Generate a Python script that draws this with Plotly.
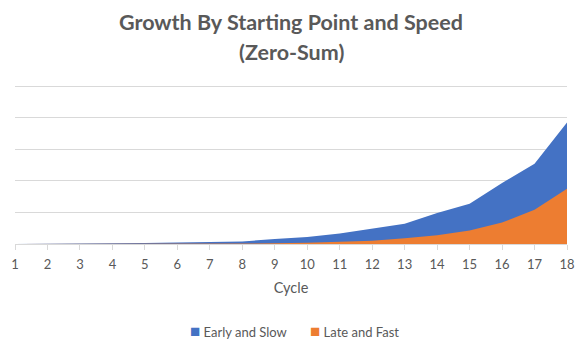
import plotly.graph_objects as go

cycles = list(range(1, 19))
early_slow = [0, 0, 0, 0.02, 0.03, 0.05, 0.06, 0.08, 0.16, 0.22, 0.33, 0.48, 0.64, 0.98, 1.275, 1.93, 2.54, 3.85]
late_fast = [0, 0, 0, 0.002, 0.004, 0.006, 0.008, 0.012, 0.02, 0.04, 0.06, 0.10, 0.18, 0.28, 0.43, 0.68, 1.085, 1.75]
title_lines = ["Growth By Starting Point and Speed", "(Zero-Sum)"]
series_names = ["Early and Slow", "Late and Fast"]
colors = ["#4472C4", "#ED7D31"]

FONT = "Lato"
GREY = "#595959"
Y_MAX = 5.1
PLOT_BOTTOM = 244
PLOT_TOP = 244 - Y_MAX * 31.6
PH = PLOT_BOTTOM - PLOT_TOP
W = 587 - 15 - 20


def py(pixel_y):
    return (PLOT_BOTTOM - pixel_y) / PH


def px(pixel_x):
    return (pixel_x - 15) / W


fig = go.Figure()
for name, vals, c in zip(series_names, [early_slow, late_fast], colors):
    fig.add_trace(go.Scatter(x=cycles, y=vals, name=name, mode="lines",
                             line=dict(width=0, color=c), fill="tozeroy",
                             fillcolor=c, showlegend=False))

for text, ypix in zip(title_lines, [22, 52]):
    fig.add_annotation(text="<b>%s</b>" % text, xref="paper", yref="paper",
                       x=0.5, y=py(ypix), xanchor="center", yanchor="middle",
                       showarrow=False, font=dict(family=FONT, size=21.5, color=GREY))

# legend (square swatch + label)
for name, c, xpix in zip(series_names, colors, [188, 308]):
    fig.add_annotation(text="<span style='color:%s;font-size:17px'>■</span> %s" % (c, name),
                       xref="paper", yref="paper", x=px(xpix), y=py(331),
                       xanchor="left", yanchor="middle", showarrow=False,
                       font=dict(family=FONT, size=13, color=GREY))

fig.update_layout(
    width=587, height=353,
    margin=dict(l=15, r=20, t=int(round(PLOT_TOP)), b=353 - PLOT_BOTTOM, autoexpand=False),
    paper_bgcolor="white", plot_bgcolor="white",
    font=dict(family=FONT, color=GREY),
    showlegend=False,
    xaxis=dict(range=[1, 18], tickmode="linear", tick0=1, dtick=1,
               showgrid=False, zeroline=False, showline=True, linecolor="#d9d9d9",
               ticks="outside", ticklen=5, tickcolor="#d9d9d9",
               ticklabelstandoff=3,
               tickfont=dict(size=13, color=GREY),
               title=dict(text="Cycle", font=dict(size=14.5, color=GREY), standoff=12)),
    yaxis=dict(range=[0, Y_MAX], tickmode="linear", tick0=0, dtick=1,
               showgrid=True, gridcolor="#d9d9d9", gridwidth=1,
               showticklabels=False, zeroline=False, showline=False, ticks=""),
)

fig.write_html("out.html")
